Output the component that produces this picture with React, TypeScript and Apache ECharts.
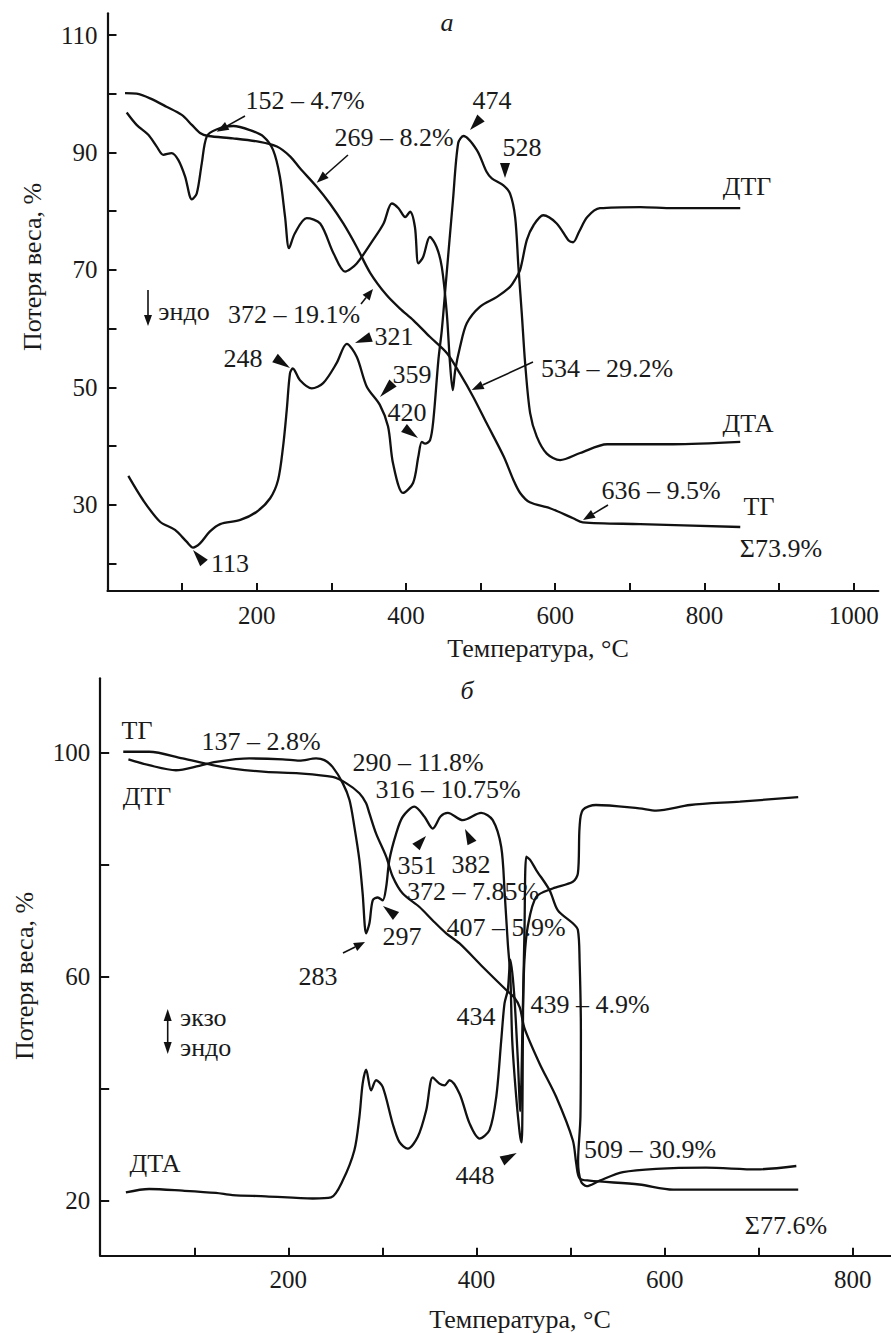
import React, { useEffect, useRef } from "react";
import * as echarts from "echarts";

// ---------- Panel а (x: °C, y: %) ----------
const aTG: number[][] = [
  [23.5, 100.1], [39, 100], [57, 99.2], [79, 97.8], [99.5, 96.4], [113, 94.7], [124, 93.3], [135, 92.8],
  [168, 92.4], [204, 91.8], [227, 91], [245, 89.3], [258, 87.3], [280, 84.2], [298, 81.3], [316, 77.9],
  [334, 73.9], [352, 69.5], [374, 65.7], [392, 63.4], [410, 61.4], [432, 58.6], [455, 55.8], [472, 52.4],
  [490, 48.4], [508, 43.9], [531, 38.2], [544, 34.2], [553, 32], [566, 30.4], [593, 29.4], [624, 27.7],
  [637, 27], [714, 26.7], [848, 26.2],
];
const aDTG: number[][] = [
  [25.7, 96.8], [39, 94.7], [54.7, 93], [66, 91], [74.8, 89.6], [86, 89.9], [95, 88.7], [104, 85.9],
  [113, 82], [119.6, 83], [126.3, 88.1], [133, 92.7], [146, 93.9], [168.6, 94.5], [191, 93.8], [209, 92.7],
  [222, 90.4], [231, 85.9], [238, 79], [243.3, 73.7], [251, 76.2], [267, 78.8], [285, 77.9], [303, 72.8],
  [318.4, 69.7], [334, 71.1], [356, 75.1], [370, 77.9], [381, 81.3], [390, 80.5], [399, 79], [405.5, 79.9],
  [412, 77.3], [416.6, 71.1], [423, 72.2], [432, 75.6], [441, 73.9], [448, 70.5], [454.7, 62.6], [459, 54.1],
  [462.7, 49.5], [466, 52.9], [472.5, 56.9], [481.5, 60.9], [499, 63.7], [522, 65.4], [539.5, 67.1],
  [546, 68.3], [553, 70], [562, 75.1], [571, 77.6], [584, 79.3], [602, 77.9], [618, 75], [624, 74.7],
  [632, 76.5], [643, 79], [660, 80.5], [714, 80.7], [758, 80.5], [848, 80.5],
];
const aDTA: number[][] = [
  [27.9, 34.9], [47.6, 30.8], [70.4, 27.1], [90.5, 25.7], [106, 23.7], [114.6, 22.7], [124, 23.4],
  [137, 25.4], [151, 26.7], [178, 27.4], [200, 28.8], [218, 31.1], [228.6, 34.2], [235.3, 39.9],
  [240.2, 46.1], [244.6, 52.4], [248.3, 53.2], [258, 51.2], [273.7, 49.8], [289, 50.7], [307, 54.1],
  [320.6, 57.4], [334, 55.2], [347.5, 50.1], [365, 47], [376, 43.3], [382.7, 37], [396, 32], [409.5, 33.7],
  [416.6, 38.2], [421.2, 40.7], [425.6, 40.4], [432.3, 41], [436.7, 44.4], [443.4, 54.6], [448, 59.7],
  [453.8, 68.3], [463, 81.9], [470, 91.6], [477, 92.8], [495, 90.4], [508, 86.7], [515, 85.6],
  [530.6, 84.4], [539.5, 83], [546.3, 79], [550.7, 70.5], [555.2, 62.6], [559.7, 54.1], [566.4, 45.6],
  [575.3, 41.6], [588.7, 38.7], [606.6, 37.6], [633.4, 38.8], [669.6, 40.3], [758, 40.3], [848, 40.7],
];

// ---------- Panel б ----------
const bTG: number[][] = [
  [24.5, 100.1], [52, 100.1], [87.6, 98.9], [119.5, 97.7], [140.7, 97.1], [176, 96.5], [211.7, 96.25],
  [247, 95.6], [261.4, 94.5], [275.5, 92.7], [282.7, 90.9], [286.2, 89.1], [293.3, 85.5], [304, 81.4],
  [311, 77.8], [321.6, 74.8], [339.4, 72.4], [353.5, 70], [367.8, 67.7], [382, 65.9], [406.7, 61.7],
  [431.6, 57.6], [440, 56.3], [446, 54.5], [451, 50.8], [467, 44.5], [484.8, 38.5], [502.4, 30.8],
  [506, 26.7], [509.6, 24], [520, 23.6], [573, 22.9], [609, 22], [742, 22],
];
const bDTG: number[][] = [
  [30, 98.75], [52, 97.7], [80.5, 96.8], [105.3, 97.6], [123, 98.3], [158.5, 98.9], [194, 98.75],
  [211.7, 98.5], [229.5, 98.9], [238.3, 98.6], [247, 97.4], [257.8, 94.5], [265, 91.5], [270.2, 86.7],
  [275.5, 80.8], [279, 74.8], [282.7, 67.7], [286.2, 69.5], [289.7, 73.6], [295, 74.1], [300.3, 73.6],
  [304, 76], [307.4, 80.8], [314.6, 85.5], [321.6, 88.5], [334, 90.3], [344.7, 88.5], [353.5, 86.4],
  [362, 88.6], [369.5, 89.2], [385.4, 87.9], [405, 89.2], [417.3, 87.9], [426.3, 83.1], [430, 74.8],
  [433.3, 65.9], [436, 60], [438, 48.6], [442, 39], [446, 32], [448, 30.4], [449, 40], [449.5, 54],
  [451, 63], [454.6, 69], [463.5, 74.2], [481, 75.7], [502.4, 76.9], [507.8, 78.4], [509.6, 86.7],
  [513, 89.7], [527, 90.6], [573, 90], [591, 89.6], [627, 90.6], [680, 91.2], [742, 92],
];
const bDTA: number[][] = [
  [27.3, 21.5], [52, 22.1], [87.6, 21.8], [123, 21.4], [140.7, 21], [176, 20.8], [226, 20.4],
  [245.4, 20.6], [257.8, 23.6], [270.2, 29], [275.5, 34.9], [279, 40.9], [282.7, 43.4], [288, 39.7],
  [293.3, 41.5], [300.3, 40.3], [311, 33.7], [318, 30.5], [327, 29.3], [337.6, 31.4], [346.5, 36.1],
  [353.5, 42], [360.6, 40.9], [366, 40.6], [371.3, 41.5], [382, 39.1], [392.6, 33.8], [403.2, 31.1],
  [413.8, 32.6], [421, 38.5], [426.3, 48.6], [429.8, 55.2], [433.3, 57.6], [436, 63], [440, 57],
  [444, 45], [446.5, 36], [449, 52], [451, 68], [453, 81.4], [457, 80.8], [463.5, 79], [477.7, 75.4],
  [486.5, 71.8], [502.4, 69.5], [507.8, 68.3], [509.6, 62.9], [511, 50], [510.5, 35], [508, 27],
  [511, 23.5], [517, 22.6], [531, 23.6], [555.6, 25.1], [591, 25.7], [644, 25.9], [698, 25.6], [740, 26.2],
];

// ---------- Ticks ----------
const aXTicks = [100, 200, 300, 400, 500, 600, 700, 800, 900, 1000];
const aXLabels = [200, 400, 600, 800, 1000];
const aYTicks = [20, 30, 40, 50, 60, 70, 80, 90, 100, 110];
const aYLabels = [30, 50, 70, 90, 110];
const bXTicks = [100, 200, 300, 400, 500, 600, 700, 800];
const bXLabels = [200, 400, 600, 800];
const bYTicks = [20, 40, 60, 80, 100];
const bYLabels = [20, 60, 100];

const FONT = "Liberation Serif";
const INK = "#1a1a1a";

function txt(text: string, x: number, y: number, extra: any = {}) {
  const style: any = {
    text,
    fill: INK,
    fontSize: extra.size || 26,
    fontFamily: FONT,
    textAlign: extra.align || "center",
    textVerticalAlign: "middle",
  };
  if (extra.italic) style.fontStyle = "italic";
  const el: any = { type: "text", x, y, style };
  if (extra.rotation) el.rotation = extra.rotation;
  return el;
}

function tri(tx: number, ty: number, bx: number, by: number, w = 5) {
  const dx = tx - bx;
  const dy = ty - by;
  const l = Math.hypot(dx, dy) || 1;
  const nx = -dy / l;
  const ny = dx / l;
  return {
    type: "polygon",
    shape: { points: [[tx, ty], [bx + nx * w, by + ny * w], [bx - nx * w, by - ny * w]] },
    style: { fill: "#111" },
  };
}

function arrow(x1: number, y1: number, x2: number, y2: number, head = 12, w = 4.5) {
  const dx = x2 - x1;
  const dy = y2 - y1;
  const l = Math.hypot(dx, dy) || 1;
  const bx = x2 - (dx / l) * head;
  const by = y2 - (dy / l) * head;
  return [
    {
      type: "line",
      shape: { x1, y1, x2: bx, y2: by },
      style: { stroke: "#111", lineWidth: 1.6 },
    },
    tri(x2, y2, bx, by, w),
  ];
}

const plain = (v: number) => String(v);

function axisX(grid: number, max: number, ticks: number[], labels: number[], margin: number) {
  return {
    type: "value",
    gridIndex: grid,
    min: 0,
    max,
    axisLine: { show: true, lineStyle: { color: "#111", width: 2.2 } },
    axisTick: { show: true, inside: true, length: 8, customValues: ticks, lineStyle: { color: "#111", width: 2 } },
    axisLabel: { customValues: labels, formatter: plain, margin, fontSize: 25, fontFamily: FONT, color: INK },
    splitLine: { show: false },
  };
}
function axisY(grid: number, min: number, max: number, ticks: number[], labels: number[]) {
  return {
    type: "value",
    gridIndex: grid,
    min,
    max,
    axisLine: { show: true, lineStyle: { color: "#111", width: 2.2 } },
    axisTick: { show: true, inside: true, length: 9, customValues: ticks, lineStyle: { color: "#111", width: 2 } },
    axisLabel: { customValues: labels, formatter: plain, margin: 10, fontSize: 25, fontFamily: FONT, color: INK },
    splitLine: { show: false },
  };
}

function line(data: number[][], idx: number) {
  return {
    type: "line",
    xAxisIndex: idx,
    yAxisIndex: idx,
    data,
    symbol: "none",
    showSymbol: false,
    smooth: 0.3,
    lineStyle: { color: "#111", width: 2.3 },
  };
}

export default function App() {
  const ref = useRef<HTMLDivElement>(null);
  useEffect(() => {
    document.body.style.margin = "0";
    const chart = echarts.init(ref.current!, null, { renderer: "svg", width: 891, height: 1333 });
    const graphic: any[] = [
      // panel а
      txt("а", 447, 22, { italic: true }),
      txt("Потеря веса, %", 32, 267, { rotation: Math.PI / 2 }),
      txt("Температура, °C", 538, 648),
      txt("152 – 4.7%", 305, 100),
      ...arrow(245, 116, 216.7, 131.7),
      txt("269 – 8.2%", 394, 137),
      ...arrow(348, 155, 316.7, 182.7),
      txt("474", 492, 100),
      tri(470, 130, 481, 118),
      txt("528", 522, 147),
      tri(505, 178, 505, 163),
      txt("ДТГ", 747, 186),
      txt("372 – 19.1%", 294, 314),
      ...arrow(361, 304, 373, 289, 11),
      ...arrow(148, 290, 148, 326, 11, 4),
      txt("эндо", 184, 311),
      txt("248", 243, 358),
      tri(290, 368, 275, 358),
      txt("321", 394, 336),
      tri(355, 343, 371, 337),
      txt("359", 412, 374),
      tri(380, 397, 393, 383),
      txt("420", 407, 412),
      tri(418, 438, 404, 428),
      txt("534 – 29.2%", 607, 368),
      ...arrow(533, 362, 471.7, 390),
      txt("ДТА", 748, 423),
      txt("636 – 9.5%", 661, 490),
      ...arrow(608, 505, 583, 520),
      txt("ТГ", 759, 506),
      txt("Σ73.9%", 781, 548),
      txt("113", 230, 563),
      tri(193, 550, 204, 563),
      // panel б
      txt("б", 467, 690, { italic: true }),
      txt("Потеря веса, %", 24, 976, { rotation: Math.PI / 2 }),
      txt("Температура, °C", 520, 1319),
      txt("ТГ", 137, 730),
      txt("ДТГ", 147, 796),
      txt("137 – 2.8%", 261, 741),
      txt("290 – 11.8%", 418, 762),
      txt("316 – 10.75%", 448, 789),
      txt("351", 417, 865),
      tri(426, 836, 416, 847),
      txt("382", 471, 864),
      tri(465, 829, 472, 843),
      txt("372 – 7.85%", 473, 891),
      txt("407 – 5.9%", 506, 927),
      txt("297", 402, 936),
      tri(383, 906, 396, 916),
      txt("283", 318, 976),
      ...arrow(343, 953, 365, 942, 11),
      txt("434", 476, 1016),
      txt("439 – 4.9%", 590, 1004),
      txt("экзо", 180, 1017, { align: "left" }),
      txt("эндо", 180, 1047, { align: "left" }),
      {
        type: "line",
        shape: { x1: 167.7, y1: 1020, x2: 167.7, y2: 1043 },
        style: { stroke: "#111", lineWidth: 1.6 },
      },
      tri(167.7, 1009, 167.7, 1021, 4),
      tri(167.7, 1054, 167.7, 1042, 4),
      txt("ДТА", 155, 1163),
      txt("448", 475, 1175),
      tri(516.7, 1153, 502, 1161),
      txt("509 – 30.9%", 650, 1149),
      txt("Σ77.6%", 786, 1225),
    ];
    const option: any = {
      animation: false,
      grid: [
        { left: 107.5, top: 13.3, width: 770.8, height: 577.7 },
        { left: 100.2, top: 678.3, width: 790.2, height: 577.4 },
      ],
      xAxis: [axisX(0, 1033, aXTicks, aXLabels, 12), axisX(1, 840, bXTicks, bXLabels, 11)],
      yAxis: [axisY(0, 15.3, 113.7, aYTicks, aYLabels), axisY(1, 10.2, 113.2, bYTicks, bYLabels)],
      series: [line(aTG, 0), line(aDTG, 0), line(aDTA, 0), line(bTG, 1), line(bDTG, 1), line(bDTA, 1)],
      graphic,
    };
    chart.setOption(option);
    return () => chart.dispose();
  }, []);
  return <div ref={ref} style={{ width: 891, height: 1333 }} />;
}
